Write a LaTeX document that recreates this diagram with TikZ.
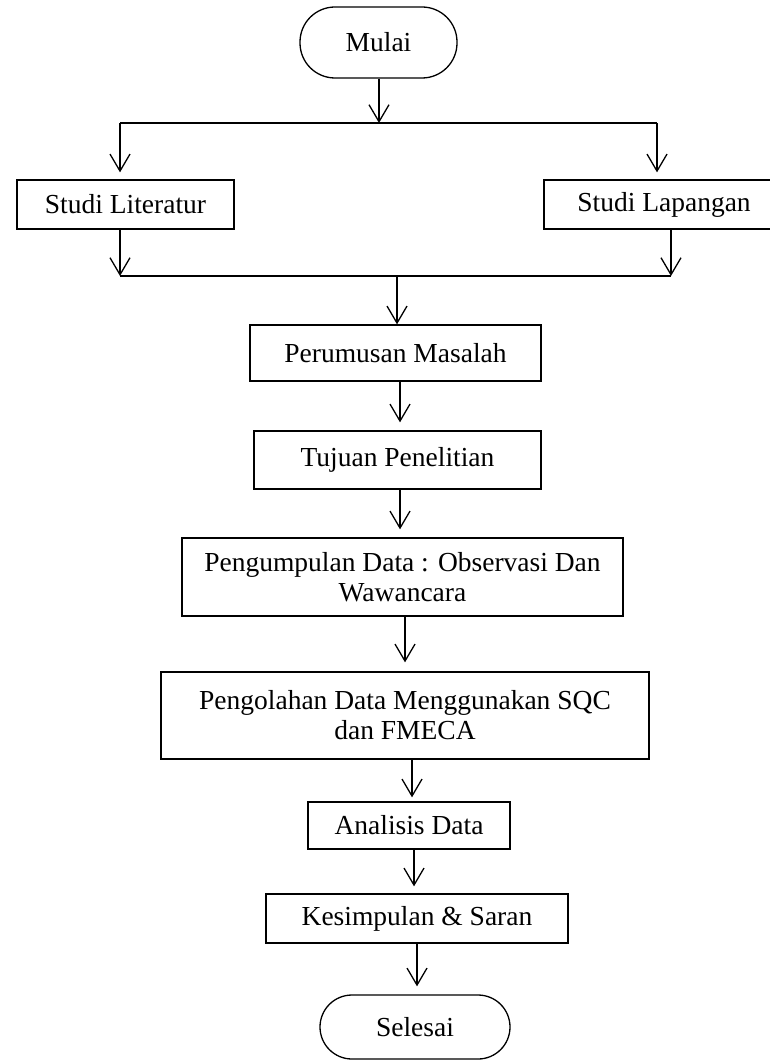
\documentclass[tikz,border=0pt]{standalone}
\usepackage{fontspec}
\setmainfont{Liberation Serif}
\usetikzlibrary{arrows.meta}
\begin{document}
\begin{tikzpicture}[x=1pt,y=-1pt,
  box/.style={draw,line width=1.3pt,inner sep=0pt,align=center,font=\fontsize{27.5}{30}\selectfont},
  term/.style={box,rounded corners=#1},
  arr/.style={line width=1.3pt,-{Straight Barb[length=17pt,width=20pt,line width=1.3pt]},shorten >=7pt},
  ln/.style={line width=1.3pt}]
\useasboundingbox (0,0) rectangle (769,1064);
\fill[white] (0,0) rectangle (769,1064);

\node[term=35pt,minimum width=157pt,minimum height=71pt] (mulai) at (378.5,42.5) {Mulai};
\node[box,minimum width=217pt,minimum height=49pt] (lit) at (125.5,204.5) {Studi Literatur};
\node[box,minimum width=240pt,minimum height=49pt] (lap) at (664,204.5) {Studi Lapangan};
\node[box,minimum width=291pt,minimum height=56pt] (per) at (395.5,353) {Perumusan Masalah};
\node[box,minimum width=287pt,minimum height=58pt] (tuj) at (397.5,460) {Tujuan Penelitian};
\node[box,minimum width=441pt,minimum height=78pt] (pengum) at (402.5,577) {Pengumpulan Data : Observasi Dan\\Wawancara};
\node[box,minimum width=488pt,minimum height=87pt] (pengol) at (405,715.5) {Pengolahan Data Menggunakan SQC\\dan FMECA};
\node[box,minimum width=202pt,minimum height=47pt] (anal) at (409,825.5) {Analisis Data};
\node[box,minimum width=302pt,minimum height=49pt] (kes) at (417,918.5) {Kesimpulan \& Saran};
\node[term=32pt,minimum width=190pt,minimum height=64pt] (sel) at (415,1027) {Selesai};

\coordinate (t1) at (379,123);
\coordinate (tl) at (120,123);
\coordinate (tr) at (657,123);
\coordinate (bl) at (120,276);
\coordinate (br) at (671,276);
\coordinate (bm) at (397,276);

\draw[arr,shorten >=0pt] (mulai.south -| t1) -- (t1);
\draw[ln] (tl) -- (tr);
\draw[arr] (tl) -- (tl |- lit.north);
\draw[arr] (tr) -- (tr |- lap.north);
\draw[arr,shorten >=0pt] (bl |- lit.south) -- (bl);
\draw[arr,shorten >=0pt] (br |- lap.south) -- (br);
\draw[ln] (bl) -- (br);
\draw[arr,shorten >=0pt] (bm) -- (bm |- per.north);

\draw[arr,shorten >=8pt] ([xshift=4.5pt]per.south) -- ([xshift=4.5pt]per.south |- tuj.north);
\draw[arr,shorten >=8pt] ([xshift=2.5pt]tuj.south) -- ([xshift=2.5pt]tuj.south |- pengum.north);
\draw[arr,shorten >=9pt] ([xshift=2.5pt]pengum.south) -- ([xshift=2.5pt]pengum.south |- pengol.north);
\draw[arr,shorten >=4pt] ([xshift=7pt]pengol.south) -- ([xshift=7pt]pengol.south |- anal.north);
\draw[arr,shorten >=7pt] ([xshift=5pt]anal.south) -- ([xshift=5pt]anal.south |- kes.north);
\draw[arr,shorten >=8pt] (kes.south) -- (kes.south |- sel.north);
\end{tikzpicture}
\end{document}
